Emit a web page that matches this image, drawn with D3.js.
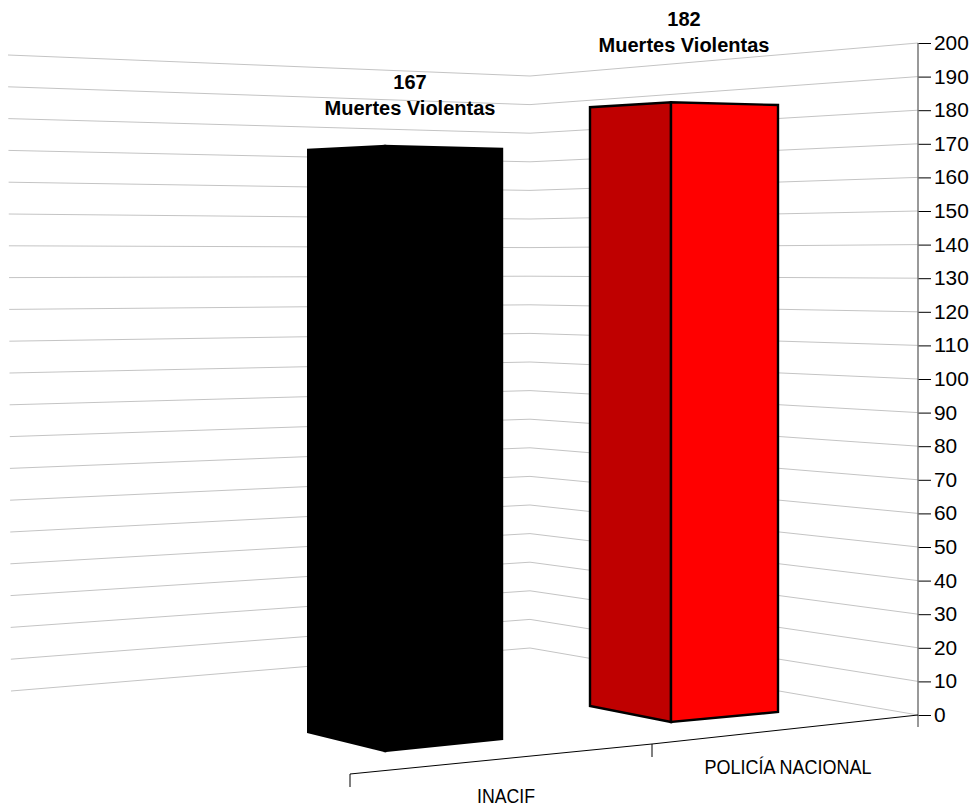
<!DOCTYPE html>
<html>
<head>
<meta charset="utf-8">
<script src="https://cdn.jsdelivr.net/npm/d3@7"></script>
<style>
html, body { margin: 0; padding: 0; background: #fff; }
text { font-family: "Liberation Sans", Arial, sans-serif; fill: #000; }
</style>
</head>
<body>
<svg id="chart" width="971" height="807"></svg>
<script>
'use strict';

var categories = ["INACIF", "POLICÍA NACIONAL"];
var values = [167, 182];
var valueLabel = "Muertes Violentas";
var ticks = d3.range(0, 201, 10);

var WIDTH = 971;
var HEIGHT = 807;

// the three edges of the back walls, each one has its own value scale
var yRight = d3.scaleLinear().domain([0, 200]).range([715, 43]);
var yCorner = d3.scaleLinear().domain([0, 200]).range([648, 76]);
var yLeft = d3.scaleLinear().domain([0, 200]).range([691, 55]);
var xLeft = d3.scaleLinear().domain([0, 200]).range([11, 8]);
var X_RIGHT = 918, X_CORNER = 530;

// floor axis, from the front left corner to the right wall
var xFloor = d3.scaleLinear().domain([0, 1, 2]).range([350, 652, 918]);
var yFloor = d3.scaleLinear().domain([0, 1, 2]).range([774, 744, 715]);

// vertical edges of each bar in perspective: x, y at value 0, y at value 200
var barEdges = [
  [[308.2, 732, 35], [385, 751, 26.4], [502, 739, 32.4]],
  [[590, 706, 48], [671, 722, 41], [778, 712, 45]]
];
var sideColors = [["#000000", "#000000"], ["#bf0000", "#ff0000"]];
var labelPos = [[410, 89, 115], [684, 26, 52]];
var catPos = [[506, 803], [788, 774]];
var catWidth = [58, 167];

var svg = d3.select("#chart");

var grid = svg.append("g").attr("stroke", "#c4c4c4").attr("fill", "none");
grid.selectAll("path").data(ticks).enter().append("path")
.attr("d", function(d) {
  return d3.line()([[xLeft(d), yLeft(d)], [X_CORNER, yCorner(d)], [X_RIGHT, yRight(d)]]);
});

// value axis on the right
var axis = svg.append("g")
.attr("transform", "translate(" + X_RIGHT + ",0)")
.call(d3.axisRight(yRight).tickValues(ticks).tickSize(13).tickPadding(3).tickSizeOuter(0));
axis.select(".domain").remove();
axis.selectAll("line").attr("stroke", "#000");
axis.selectAll("text")
.attr("font-size", 20)
.attr("fill", "#000")
.attr("textLength", function(d) { return String(d).length * 11.6; })
.attr("lengthAdjust", "spacingAndGlyphs");

svg.append("line")
.attr("x1", X_RIGHT).attr("x2", X_RIGHT)
.attr("y1", yRight(200)).attr("y2", 727)
.attr("stroke", "#777")
.attr("stroke-width", 1.5);

// floor axis
svg.append("path")
.attr("d", d3.line()(d3.range(0, 3).map(function(i) { return [xFloor(i), yFloor(i)]; })))
.attr("fill", "none")
.attr("stroke", "#000");
svg.selectAll(".floorTick").data([0, 1]).enter().append("line")
.attr("class", "floorTick")
.attr("x1", function(d) { return xFloor(d); })
.attr("x2", function(d) { return xFloor(d); })
.attr("y1", function(d) { return yFloor(d); })
.attr("y2", function(d) { return yFloor(d) + 13; })
.attr("stroke", "#000");

// bars
values.forEach(function(v, i) {
  var edges = barEdges[i].map(function(e) {
    var y = d3.scaleLinear().domain([0, 200]).range([e[1], e[2]]);
    return { x: e[0], bottom: y(0), top: y(v) };
  });
  var g = svg.append("g").attr("stroke", "#000").attr("stroke-width", 2.4).attr("stroke-linejoin", "miter");
  for (let s = 0; s < 2; s++) {
    let a = edges[s], b = edges[s + 1];
    g.append("path")
    .attr("d", d3.line()([[a.x, a.bottom], [a.x, a.top], [b.x, b.top], [b.x, b.bottom]]) + "Z")
    .attr("fill", sideColors[i][s]);
  }
  svg.append("text").attr("x", labelPos[i][0]).attr("y", labelPos[i][1])
  .attr("text-anchor", "middle").attr("font-weight", "bold").attr("font-size", 20).text(v);
  svg.append("text").attr("x", labelPos[i][0]).attr("y", labelPos[i][2])
  .attr("text-anchor", "middle").attr("font-weight", "bold").attr("font-size", 20).text(valueLabel);
  svg.append("text").attr("x", catPos[i][0]).attr("y", catPos[i][1])
  .attr("text-anchor", "middle").attr("font-size", 20)
  .attr("textLength", catWidth[i]).attr("lengthAdjust", "spacingAndGlyphs")
  .text(categories[i]);
});
</script>
</body>
</html>
